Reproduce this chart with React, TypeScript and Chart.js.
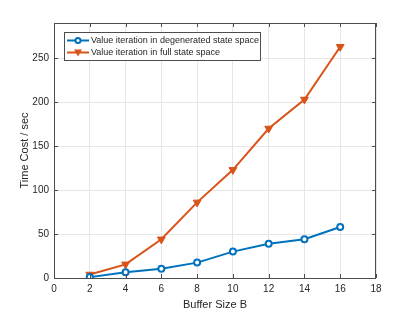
import React, { useEffect, useRef } from "react";
import { Chart, registerables } from "chart.js";

Chart.register(...registerables);

const bufferSizes = [2, 4, 6, 8, 10, 12, 14, 16];
const degeneratedTime = [1, 6.5, 10.5, 17.5, 30, 39, 44, 58];
const fullTime = [4, 15.5, 44, 86, 123, 170, 203, 263];
const xTicks = [0, 2, 4, 6, 8, 10, 12, 14, 16, 18];
const yTicks = [0, 50, 100, 150, 200, 250];
const seriesLabels = [
  "Value iteration in degenerated state space",
  "Value iteration in full state space",
];
const xTitle = "Buffer Size B";
const yTitle = "Time Cost / sec";

const BLUE = "#0072BD";
const ORANGE = "#D95319";
const AXIS = "#4d4d4d";
const GRID = "#e6e6e6";
const FONT = "'Liberation Sans', Arial, sans-serif";

const boxPlugin = {
  id: "matlabBox",
  afterDraw(chart: any) {
    const { ctx, chartArea: a, scales } = chart;
    ctx.save();
    ctx.strokeStyle = AXIS;
    ctx.lineWidth = 1;
    ctx.strokeRect(a.left + 0.5, a.top + 0.5, a.right - a.left - 1, a.bottom - a.top);
    const t = 4;
    ctx.beginPath();
    for (const v of xTicks) {
      const x = Math.round(scales.x.getPixelForValue(v)) + 0.5;
      ctx.moveTo(x, a.bottom);
      ctx.lineTo(x, a.bottom - t);
      ctx.moveTo(x, a.top);
      ctx.lineTo(x, a.top + t);
    }
    for (const v of yTicks) {
      const y = Math.round(scales.y.getPixelForValue(v)) + 0.5;
      ctx.moveTo(a.left, y);
      ctx.lineTo(a.left + t, y);
      ctx.moveTo(a.right, y);
      ctx.lineTo(a.right - t, y);
    }
    ctx.stroke();

    // legend
    const lx = 64, ly = 32, lw = 196, lh = 28;
    ctx.fillStyle = "#ffffff";
    ctx.fillRect(lx, ly, lw, lh);
    ctx.strokeStyle = AXIS;
    ctx.strokeRect(lx + 0.5, ly + 0.5, lw, lh);
    ctx.font = `9px ${FONT}`;
    ctx.textBaseline = "middle";
    chart.data.datasets.forEach((ds: any, i: number) => {
      const y = ly + 8.5 + i * 12;
      ctx.strokeStyle = ds.borderColor;
      ctx.lineWidth = 2;
      ctx.beginPath();
      ctx.moveTo(lx + 3, y);
      ctx.lineTo(lx + 25, y);
      ctx.stroke();
      const cx = lx + 14;
      if (i === 0) {
        ctx.fillStyle = "#ffffff";
        ctx.beginPath();
        ctx.arc(cx, y, 2.5, 0, Math.PI * 2);
        ctx.fill();
        ctx.stroke();
      } else {
        ctx.fillStyle = ds.borderColor;
        ctx.beginPath();
        ctx.moveTo(cx - 4, y - 3);
        ctx.lineTo(cx + 4, y - 3);
        ctx.lineTo(cx, y + 4);
        ctx.closePath();
        ctx.fill();
      }
      ctx.fillStyle = "#262626";
      ctx.fillText(ds.label, lx + 27, y + 0.5);
    });
    ctx.restore();
  },
};

export default function App() {
  const ref = useRef<HTMLCanvasElement>(null);
  useEffect(() => {
    document.body.style.margin = "0";
    const chart = new Chart(ref.current as HTMLCanvasElement, {
      type: "line",
      data: {
        datasets: [
          {
            label: seriesLabels[0],
            data: bufferSizes.map((x, i) => ({ x, y: degeneratedTime[i] })),
            borderColor: BLUE,
            backgroundColor: "#ffffff",
            borderWidth: 2,
            pointStyle: "circle",
            pointRadius: 3,
            pointBorderWidth: 2,
            pointBorderColor: BLUE,
            pointBackgroundColor: "#ffffff",
          },
          {
            label: seriesLabels[1],
            data: bufferSizes.map((x, i) => ({ x, y: fullTime[i] })),
            borderColor: ORANGE,
            backgroundColor: ORANGE,
            borderWidth: 2,
            pointStyle: "triangle",
            pointRotation: 180,
            pointRadius: 4.5,
            pointBorderWidth: 1,
            pointBorderColor: ORANGE,
            pointBackgroundColor: ORANGE,
          },
        ],
      },
      options: {
        animation: false,
        responsive: false,
        layout: { padding: { left: 0, right: 39, top: 23, bottom: 0 } },
        plugins: { legend: { display: false }, tooltip: { enabled: false } },
        scales: {
          x: {
            type: "linear",
            min: 0,
            max: 18,
            afterBuildTicks: (s: any) => {
              s.ticks = xTicks.map((v) => ({ value: v }));
            },
            afterFit: (s: any) => {
              s.height = 34;
            },
            grid: { color: GRID, drawTicks: false },
            border: { display: false },
            ticks: {
              color: "#262626",
              font: { family: FONT, size: 10 },
              padding: 5,
              maxRotation: 0,
            },
            title: {
              display: true,
              text: xTitle,
              color: "#262626",
              font: { family: FONT, size: 11 },
              padding: { top: 2, bottom: 0 },
            },
          },
          y: {
            type: "linear",
            min: 0,
            max: 290,
            afterBuildTicks: (s: any) => {
              s.ticks = yTicks.map((v) => ({ value: v }));
            },
            afterFit: (s: any) => {
              s.width = 54;
            },
            grid: { color: GRID, drawTicks: false },
            border: { display: false },
            ticks: {
              color: "#262626",
              font: { family: FONT, size: 10 },
              padding: 5,
            },
            title: {
              display: true,
              text: yTitle,
              color: "#262626",
              font: { family: FONT, size: 11 },
              padding: { top: 18, bottom: 0 },
            },
          },
        },
      },
      plugins: [boxPlugin],
    } as any);
    return () => chart.destroy();
  }, []);
  return (
    <div style={{ position: "absolute", left: 0, top: 0, width: 415, height: 312 }}>
      <canvas ref={ref} width={415} height={312} style={{ width: 415, height: 312 }} />
    </div>
  );
}
